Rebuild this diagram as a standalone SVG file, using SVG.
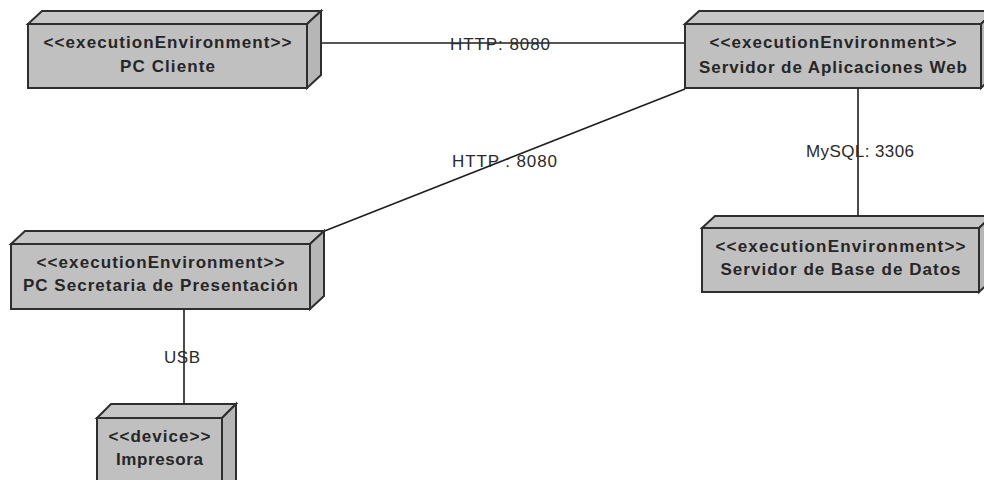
<svg xmlns="http://www.w3.org/2000/svg" width="984" height="480" viewBox="0 0 984 480">
<style>
.face{fill:#c0c0c0;stroke:#2e2e2e;stroke-width:2;stroke-linejoin:miter}
.top{fill:#c6c6c6;stroke:#2e2e2e;stroke-width:2}
.side{fill:#b6b6b6;stroke:#2e2e2e;stroke-width:2}
.nt{font-family:"Liberation Sans",Arial,sans-serif;font-weight:bold;font-size:17px;fill:#262626;text-anchor:middle}
.conn{stroke:#1e1e1e;stroke-width:1.6;fill:none}
.lbl{font-family:"Liberation Sans",Arial,sans-serif;font-size:17px;fill:#2a2a2a}
</style>
<rect width="984" height="480" fill="#ffffff"/>
<g id="connectors">
<line class="conn" x1="321" y1="43" x2="685" y2="43"/>
<line class="conn" x1="322" y1="232" x2="685" y2="89"/>
<line class="conn" x1="858" y1="88" x2="858" y2="216"/>
<line class="conn" x1="184" y1="309" x2="184" y2="404"/>
<text class="lbl" x="450" y="50" textLength="100" lengthAdjust="spacing">HTTP: 8080</text>
<text class="lbl" x="452" y="167" textLength="105" lengthAdjust="spacing">HTTP : 8080</text>
<text class="lbl" x="806" y="157" textLength="108" lengthAdjust="spacing">MySQL: 3306</text>
<text class="lbl" x="164" y="363" textLength="36" lengthAdjust="spacing">USB</text>
</g>
<g id="pc-cliente">
<polygon class="top" points="28,24 42,11 321,11 307,24"/>
<polygon class="side" points="307,24 321,11 321,75 307,88"/>
<rect class="face" x="28" y="24" width="279" height="64"/>
<text class="nt" x="167.5" y="48" textLength="248" lengthAdjust="spacing">&lt;&lt;executionEnvironment&gt;&gt;</text>
<text class="nt" x="167.5" y="72" textLength="95" lengthAdjust="spacing">PC Cliente</text>
</g>
<g id="servidor-web">
<polygon class="top" points="685,24 699,11 995,11 981,24"/>
<polygon class="side" points="981,24 995,11 995,75 981,88"/>
<rect class="face" x="685" y="24" width="296" height="64"/>
<text class="nt" x="833" y="48" textLength="247" lengthAdjust="spacing">&lt;&lt;executionEnvironment&gt;&gt;</text>
<text class="nt" x="833" y="73" textLength="268" lengthAdjust="spacing">Servidor de Aplicaciones Web</text>
</g>
<g id="pc-secretaria">
<polygon class="top" points="11,244 25,231 324,231 310,244"/>
<polygon class="side" points="310,244 324,231 324,296 310,309"/>
<rect class="face" x="11" y="244" width="299" height="65"/>
<text class="nt" x="160.5" y="268" textLength="248" lengthAdjust="spacing">&lt;&lt;executionEnvironment&gt;&gt;</text>
<text class="nt" x="160.5" y="291" textLength="275" lengthAdjust="spacing">PC Secretaria de Presentación</text>
</g>
<g id="servidor-bd">
<polygon class="top" points="702,228 715,216 992,216 979,228"/>
<polygon class="side" points="979,228 992,216 992,280 979,292"/>
<rect class="face" x="702" y="228" width="277" height="64"/>
<text class="nt" x="840.5" y="252" textLength="250" lengthAdjust="spacing">&lt;&lt;executionEnvironment&gt;&gt;</text>
<text class="nt" x="840.5" y="275" textLength="240" lengthAdjust="spacing">Servidor de Base de Datos</text>
</g>
<g id="impresora">
<polygon class="top" points="97,418 111,404 236,404 222,418"/>
<polygon class="side" points="222,418 236,404 236,480 222,494"/>
<rect class="face" x="97" y="418" width="125" height="76"/>
<text class="nt" x="159.5" y="442" textLength="102" lengthAdjust="spacing">&lt;&lt;device&gt;&gt;</text>
<text class="nt" x="159.5" y="465" textLength="87" lengthAdjust="spacing">Impresora</text>
</g>
</svg>
